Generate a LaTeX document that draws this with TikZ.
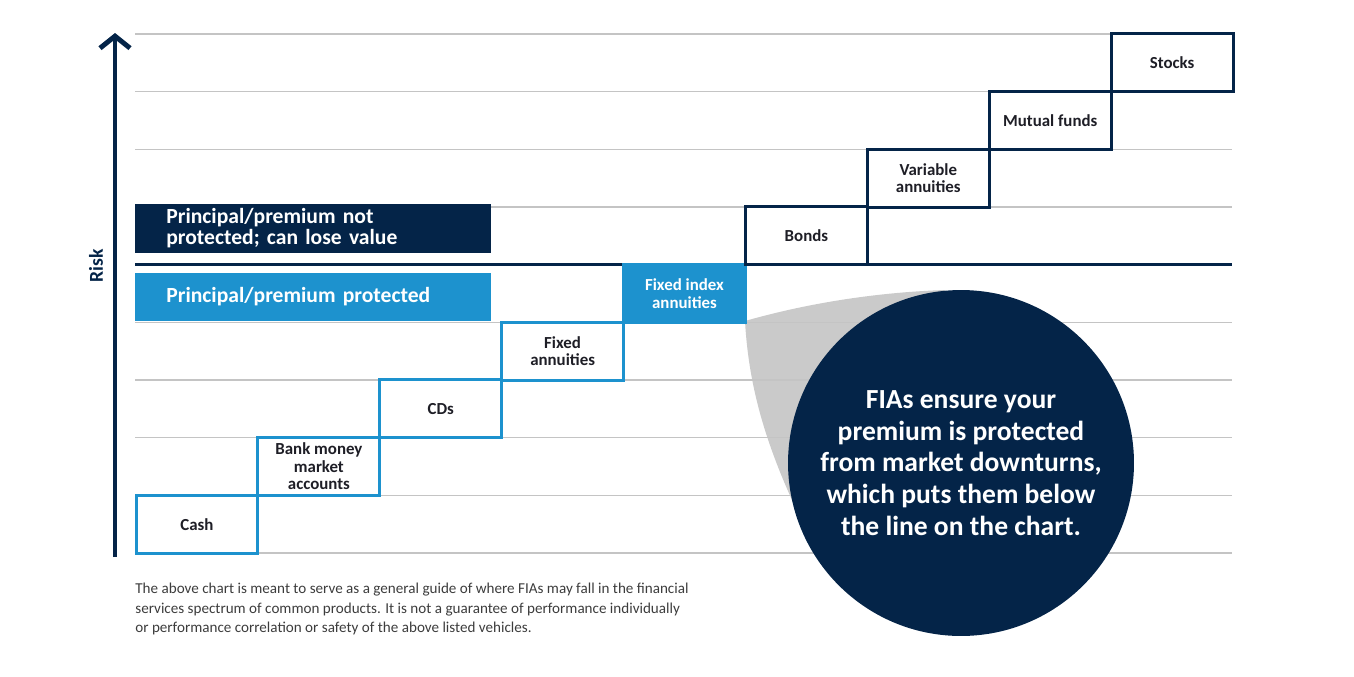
\documentclass[tikz,border=0pt]{standalone}
\usepackage{fontspec}
\setmainfont{Carlito}
\usetikzlibrary{arrows.meta}
\definecolor{navy}{RGB}{4,36,72}
\definecolor{skyblue}{RGB}{29,146,206}
\definecolor{gridgray}{RGB}{196,196,196}
\definecolor{tailgray}{RGB}{202,202,202}
\definecolor{notegray}{RGB}{60,60,60}
\definecolor{labelink}{RGB}{30,30,38}

\begin{document}
\begin{tikzpicture}[x=0.02cm,y=-0.02cm,
  gridline/.style={draw=gridgray,line width=0.8pt},
  safebox/.style={draw=skyblue,line width=1.7pt,fill=white,minimum width=2.44cm,
    minimum height=1.153cm,inner sep=0pt,align=center,text=labelink,
    font=\bfseries\fontsize{9.6}{10}\selectfont},
  riskbox/.style={safebox,draw=navy},
  band/.style={anchor=west,minimum width=7.12cm,text width=5.88cm,inner xsep=0.62cm,
    inner ysep=0pt,align=left,text=white,font=\bfseries\fontsize{12.3}{12}\selectfont}]
\useasboundingbox (0,0) rectangle (1354,676);
% grey tail from the fixed index box to the bubble
\coordinate (tailtop) at (945,290);
\coordinate (tailfoot) at (806,530);
\fill[tailgray] (745,321) .. controls (815,301) and (885,292) .. (tailtop)
  -- (961,463) -- (tailfoot) .. controls (768,452) and (749,392) .. (745,321) -- cycle;
% rows of the chart
\foreach \i in {0,...,9}
  \draw[gridline] (135,{34+57.67*\i}) -- (1232,{34+57.67*\i});
\draw[navy,line width=1.8pt] (135,264.7) -- (1232,264.7);
% risk axis
\coordinate (axisbot) at (115,557);
\coordinate (axistop) at (115,33);
\draw[navy,line width=2.8pt,-{Straight Barb[length=0.24cm,width=0.6cm]}] (axisbot) -- (axistop);
\node[rotate=90,text=navy,font=\bfseries\fontsize{11.2}{12}\selectfont] (risk) at (96,266) {Risk};
% bands
\node[band,fill=navy,minimum height=0.98cm] (notprot) at (135,228.5)
  {Principal/premium not\\protected; can lose value};
\node[band,fill=skyblue,minimum height=0.96cm] (prot) at (135,297)
  {\raisebox{-1.5pt}{Principal/premium protected}};
% boxes below the line
\node[safebox] (cash) at (197,524.2) {Cash};
\node[safebox] (bank) at (318.9,466.5) {Bank money\\market\\accounts};
\node[safebox] (cds) at (440.8,408.8) {CDs};
\node[safebox] (fixed) at (562.6,351.2) {Fixed\\annuities};
\node[safebox,fill=skyblue,text=white] (fia) at (684.5,293.5) {Fixed index\\annuities};
% boxes above the line
\node[riskbox] (bonds) at (806.4,235.8) {Bonds};
\node[riskbox] (variable) at (928.3,178.2) {Variable\\annuities};
\node[riskbox] (mutual) at (1050.2,120.5) {Mutual funds};
\node[riskbox] (stocks) at (1172.1,62.8) {Stocks};
% bubble
\node[circle,fill=navy,minimum size=6.92cm,inner sep=0pt] (bubble) at (961,463) {};
\node[align=center,text=white,font=\bfseries\fontsize{15.7}{18}\selectfont] (bubbletxt) at (bubble.center)
  {FIAs ensure your\\premium is protected\\from market downturns,\\which puts them below\\the line on the chart.};
% note under the chart
\node[anchor=north west,inner sep=0pt,align=left,text=notegray,font=\fontsize{8.6}{11}\selectfont] (note) at (135,583)
  {The above chart is meant to serve as a general guide of where FIAs may fall in the financial\\
   services spectrum of common products. It is not a guarantee of performance individually\\
   or performance correlation or safety of the above listed vehicles.};
\end{tikzpicture}
\end{document}
